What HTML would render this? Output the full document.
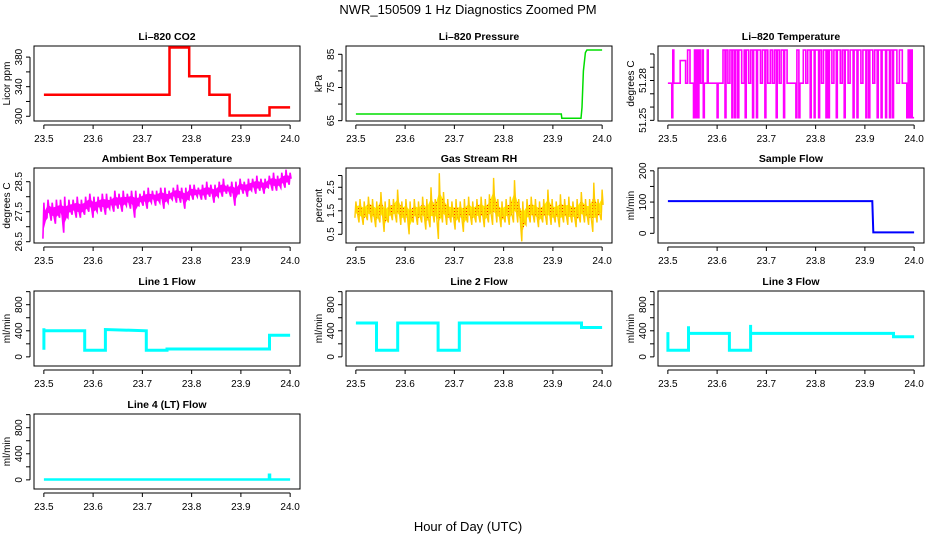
<!DOCTYPE html>
<html><head><meta charset="utf-8"><style>
body{margin:0;background:#fff;}
svg{display:block;font-family:"Liberation Sans",Arial,sans-serif;}
</style></head><body>
<svg id="chart" width="936" height="540" viewBox="0 0 936 540" xmlns="http://www.w3.org/2000/svg">
<defs>
<pattern id="rhdots" width="3" height="3" patternUnits="userSpaceOnUse">
<rect width="3" height="3" fill="#ffee00"/><rect x="1" y="1" width="1" height="1" fill="#ff2200"/>
</pattern>
</defs>
<rect width="936" height="540" fill="#fff"/>
<text x="468" y="14" text-anchor="middle" font-size="13">NWR_150509  1 Hz Diagnostics Zoomed PM</text>
<text x="468" y="531" text-anchor="middle" font-size="13">Hour of Day (UTC)</text>
</svg>
<script>
const xTicks=[23.5,23.6,23.7,23.8,23.9,24.0];
const xTickLabels=["23.5","23.6","23.7","23.8","23.9","24.0"];
// CO2 steps
const co2Times=[23.5,23.755,23.755,23.795,23.795,23.836,23.836,23.877,23.877,23.958,23.958,24.0];
const co2Vals=[329,329,393,393,354,354,329,329,301,301,312,312];
// Pressure
const presTimes=[23.5,23.917,23.918,23.957,23.959,23.962,23.966,23.969,24.0];
const presVals=[67.0,67.0,65.7,65.7,69,80,85.5,86.3,86.3];
// Li-820 temperature (step: value held until next time)
const tempTimes=[23.5,23.508,23.510,23.512,23.525,23.536,23.540,23.545,23.552,23.554,23.557,23.559,23.561,23.563,23.566,23.570,23.572,23.574,23.580,23.582,23.600,23.602,23.612,23.616,23.618,23.622,23.626,23.630,23.632,23.636,23.638,23.642,23.644,23.650,23.655,23.657,23.659,23.664,23.668,23.672,23.674,23.680,23.682,23.688,23.692,23.697,23.699,23.703,23.708,23.712,23.716,23.720,23.722,23.726,23.730,23.735,23.737,23.742,23.760,23.762,23.766,23.768,23.775,23.780,23.784,23.789,23.791,23.797,23.799,23.806,23.808,23.812,23.816,23.821,23.823,23.826,23.828,23.833,23.837,23.842,23.844,23.850,23.854,23.858,23.860,23.866,23.870,23.876,23.878,23.884,23.886,23.892,23.896,23.902,23.904,23.908,23.910,23.916,23.920,23.925,23.927,23.933,23.935,23.942,23.944,23.950,23.952,23.956,23.958,23.965,23.970,23.976,23.985,23.988,23.990,23.993,23.996,24.0];
const tempVals=[51.278,51.252,51.303,51.278,51.295,51.278,51.303,51.278,51.252,51.303,51.252,51.303,51.252,51.303,51.278,51.303,51.252,51.278,51.303,51.278,51.252,51.278,51.303,51.252,51.303,51.278,51.303,51.252,51.303,51.252,51.303,51.252,51.303,51.278,51.303,51.252,51.303,51.278,51.303,51.252,51.303,51.252,51.303,51.278,51.303,51.252,51.303,51.278,51.303,51.278,51.303,51.252,51.303,51.278,51.303,51.252,51.303,51.278,51.252,51.303,51.252,51.278,51.303,51.278,51.303,51.252,51.303,51.252,51.303,51.252,51.303,51.278,51.303,51.252,51.303,51.252,51.303,51.278,51.303,51.252,51.303,51.278,51.303,51.252,51.303,51.278,51.303,51.252,51.303,51.252,51.303,51.278,51.303,51.252,51.303,51.252,51.303,51.278,51.303,51.252,51.303,51.252,51.303,51.252,51.303,51.252,51.303,51.252,51.303,51.278,51.303,51.278,51.252,51.303,51.252,51.303,51.252,51.252];
// Ambient box temperature band
const ambHi=[27.8,27.9,27.8,27.9,27.9,28.0,27.9,27.9,28.0,27.9,28.0,28.1,28.0,28.0,28.1,28.1,28.0,28.2,28.1,28.2,28.1,28.2,28.2,28.1,28.2,28.3,28.2,28.2,28.3,28.3,28.2,28.3,28.4,28.3,28.3,28.4,28.4,28.3,28.4,28.5,28.4,28.4,28.5,28.6,28.4,28.5,28.5,28.6,28.5,28.6,28.6,28.7,28.6,28.6,28.7,28.8,28.7,28.8,28.9,28.8];
const ambLo=[26.6,27.3,27.2,27.1,27.3,26.8,27.3,27.4,27.3,27.3,27.4,27.5,27.3,27.5,27.5,27.4,27.6,27.5,27.6,27.5,27.7,27.6,27.3,27.7,27.7,27.6,27.8,27.7,27.8,27.6,27.8,27.9,27.8,27.8,27.6,27.9,27.9,28.0,27.9,27.9,28.0,27.8,28.0,28.0,28.1,28.0,27.7,28.1,28.1,28.0,28.2,28.1,28.2,28.1,28.3,28.2,28.2,28.3,28.3,28.4];
// Gas stream RH band
const rhHi=[1.9,2.0,1.9,2.1,2.0,1.9,2.3,1.9,2.0,2.0,2.4,1.9,2.0,1.9,2.0,1.9,2.1,2.0,2.5,2.0,3.1,2.3,2.0,1.9,2.0,1.9,2.0,2.1,1.9,2.0,2.1,2.0,2.2,2.9,2.0,1.9,2.0,2.1,2.8,2.0,1.9,2.0,2.1,2.0,1.9,2.0,2.4,2.0,1.9,2.2,2.0,2.1,1.9,2.0,2.3,2.0,2.0,2.7,2.0,2.4];
const rhLo=[1.2,1.0,0.9,1.1,1.0,0.8,1.0,0.6,1.0,1.1,1.0,0.9,1.0,0.5,1.0,0.9,1.0,0.7,0.8,1.0,0.3,1.0,0.9,1.0,0.7,1.0,0.6,1.0,0.9,1.0,1.0,0.8,1.0,0.9,1.0,0.8,1.0,0.9,1.0,1.0,0.2,0.9,1.0,1.0,0.8,1.0,0.9,0.9,1.0,0.8,1.0,0.9,1.0,0.8,1.0,1.0,0.9,0.6,1.0,1.1];
// Sample flow
const sfTimes=[23.5,23.915,23.917,24.0];
const sfVals=[103,103,3,3];
// Line flows
const l1Times=[23.5,23.5,23.5,23.583,23.583,23.625,23.625,23.708,23.708,23.75,23.75,23.958,23.958,24.0];
const l1Vals=[110,440,400,400,100,100,420,400,100,100,120,120,330,330];
const l2Times=[23.5,23.542,23.542,23.585,23.585,23.667,23.667,23.71,23.71,23.958,23.958,24.0];
const l2Vals=[520,520,100,100,520,520,100,100,520,520,450,450];
const l3Times=[23.5,23.5,23.542,23.542,23.542,23.625,23.625,23.668,23.668,23.668,23.958,23.958,24.0];
const l3Vals=[380,100,100,470,360,360,100,100,490,360,360,310,310];
const l4Times=[23.5,23.957,23.957,23.959,23.959,24.0];
const l4Vals=[5,5,80,80,5,5];

const NS='http://www.w3.org/2000/svg';
const svg=document.getElementById('chart');
const colX=[[34,300],[346,612],[658,924]];
const rowY=[46,168,291,414];
const BH=75;
function mk(tag,attrs,parent){const e=document.createElementNS(NS,tag);for(const k in attrs)e.setAttribute(k,attrs[k]);(parent||svg).appendChild(e);return e;}

function panel(id,col,row,title,ylab,ymin,ymax,yt,ytl){
  const [x0,x1]=colX[col];const y0=rowY[row],y1=y0+BH;
  const g=mk('g',{});
  
  
  const sx=v=>x0+(v-23.48)/(24.02-23.48)*(x1-x0);
  const sy=v=>y1-(v-ymin)/(ymax-ymin)*BH;
  const box=mk('rect',{x:x0,y:y0,width:x1-x0,height:BH,fill:'none',stroke:'#000','stroke-width':1},g);
  
  
  const t=mk('text',{x:(x0+x1)/2,y:y0-6,'text-anchor':'middle','font-size':10.5,'font-weight':'bold'},g);
  t.textContent=title;
  
  
  const xa=mk('g',{},g);
  
  
  mk('line',{x1:sx(xTicks[0]),x2:sx(xTicks[xTicks.length-1]),y1:y1+4,y2:y1+4,stroke:'#000'},xa);
  xTicks.forEach((v,i)=>{
    mk('line',{x1:sx(v),x2:sx(v),y1:y1+4,y2:y1+8,stroke:'#000'},xa);
    const l=mk('text',{x:sx(v),y:y1+21,'text-anchor':'middle','font-size':10},xa);
    l.textContent=xTickLabels[i];
    
    
  });
  const ya=mk('g',{},g);
  
  
  mk('line',{x1:x0-4,x2:x0-4,y1:sy(yt[0]),y2:sy(yt[yt.length-1]),stroke:'#000'},ya);
  yt.forEach((v,i)=>{
    mk('line',{x1:x0-8,x2:x0-4,y1:sy(v),y2:sy(v),stroke:'#000'},ya);
    if(ytl[i]!==''){
      const l=mk('text',{x:x0-12,y:sy(v),'text-anchor':'middle','font-size':10,transform:`rotate(-90 ${x0-12} ${sy(v)})`},ya);
      l.textContent=ytl[i];
      
      
    }
  });
  const yl=mk('text',{x:x0-24,y:(y0+y1)/2,'text-anchor':'middle','font-size':10,transform:`rotate(-90 ${x0-24} ${(y0+y1)/2})`},g);
  yl.textContent=ylab;
  
  
  return {g,sx,sy};
}
function series(p,id,times,vals,color,w){
  const pts=times.map((t,i)=>p.sx(t).toFixed(1)+','+p.sy(vals[i]).toFixed(1)).join(' ');
  const pl=mk('polyline',{points:pts,fill:'none',stroke:color,'stroke-width':w,'stroke-linejoin':'miter'},p.g);
  
  
  return pl;
}
function stepSeries(p,id,times,vals,color,w){
  const pts=[];
  for(let i=0;i<times.length;i++){
    if(i>0)pts.push(p.sx(times[i]).toFixed(1)+','+p.sy(vals[i-1]).toFixed(1));
    pts.push(p.sx(times[i]).toFixed(1)+','+p.sy(vals[i]).toFixed(1));
  }
  const pl=mk('polyline',{points:pts.join(' '),fill:'none',stroke:color,'stroke-width':w},p.g);
  
  
}
function band(p,id,hi,lo,color,w,fillc){
  const n=hi.length;const pts=[];const up=[],dn=[];
  for(let i=0;i<n;i++){const t=23.5+0.5*i/(n-1);
    pts.push(p.sx(t-0.002).toFixed(1)+','+p.sy(lo[i]).toFixed(1));
    pts.push(p.sx(t).toFixed(1)+','+p.sy(hi[i]).toFixed(1));
    pts.push(p.sx(t+0.002).toFixed(1)+','+p.sy((hi[i]+lo[i])/2).toFixed(1));
    up.push(p.sx(t).toFixed(1)+','+p.sy(hi[i]*0.6+lo[i]*0.4+0.12*(hi[i]-lo[i])).toFixed(1));
    dn.unshift(p.sx(t).toFixed(1)+','+p.sy(lo[i]*0.6+hi[i]*0.4-0.12*(hi[i]-lo[i])).toFixed(1));
  }
  const fp=mk('polygon',{points:up.concat(dn).join(' '),fill:fillc,stroke:'none'},p.g);
  
  
  const pl=mk('polyline',{points:pts.join(' '),fill:'none',stroke:color,'stroke-width':w},p.g);
  
  
}
let p;
p=panel('co2',0,0,'Li\u2013820 CO2','Licor ppm',293.6,395,[300,320,340,360,380],['300','','340','','380']);
series(p,'co2',co2Times,co2Vals,'#ff0000',2.5);
p=panel('pressure',1,0,'Li\u2013820 Pressure','kPa',64.9,87.5,[65,70,75,80,85],['65','','75','','85']);
series(p,'pressure',presTimes,presVals,'#00dd00',1.5);
p=panel('li820-temp',2,0,'Li\u2013820 Temperature','degrees C',51.2495,51.306,[51.25,51.26,51.27,51.28,51.29,51.30],['51.25','','','51.28','','']);
stepSeries(p,'li820-temp',tempTimes,tempVals,'#ff00ff',1.6);
p=panel('ambient',0,1,'Ambient Box Temperature','degrees C',26.457,28.957,[26.5,27,27.5,28,28.5],['26.5','','27.5','','28.5']);
band(p,'ambient',ambHi,ambLo,'#ff00ff',1.6,'#ff00ff');
p=panel('rh',1,1,'Gas Stream RH','percent',0.13,3.32,[0.5,1,1.5,2,2.5,3],['0.5','','1.5','','2.5','']);
band(p,'rh',rhHi,rhLo,'#ffcc00',1.4,'url(#rhdots)');
p=panel('sample-flow',2,1,'Sample Flow','ml/min',-31,209,[0,50,100,150,200],['0','','100','','200']);
series(p,'sample-flow',sfTimes,sfVals,'#0000ff',2);
const fT=[0,200,400,600,800,1000],fL=['0','','400','','800',''];
p=panel('line1',0,2,'Line 1 Flow','ml/min',-140,1010,fT,fL);
series(p,'line1',l1Times,l1Vals,'#00ffff',3);
p=panel('line2',1,2,'Line 2 Flow','ml/min',-140,1010,fT,fL);
series(p,'line2',l2Times,l2Vals,'#00ffff',3);
p=panel('line3',2,2,'Line 3 Flow','ml/min',-140,1010,fT,fL);
series(p,'line3',l3Times,l3Vals,'#00ffff',3);
p=panel('line4',0,3,'Line 4 (LT) Flow','ml/min',-140,1010,fT,fL);
series(p,'line4',l4Times,l4Vals,'#00ffff',2.5);
</script>
</body></html>
